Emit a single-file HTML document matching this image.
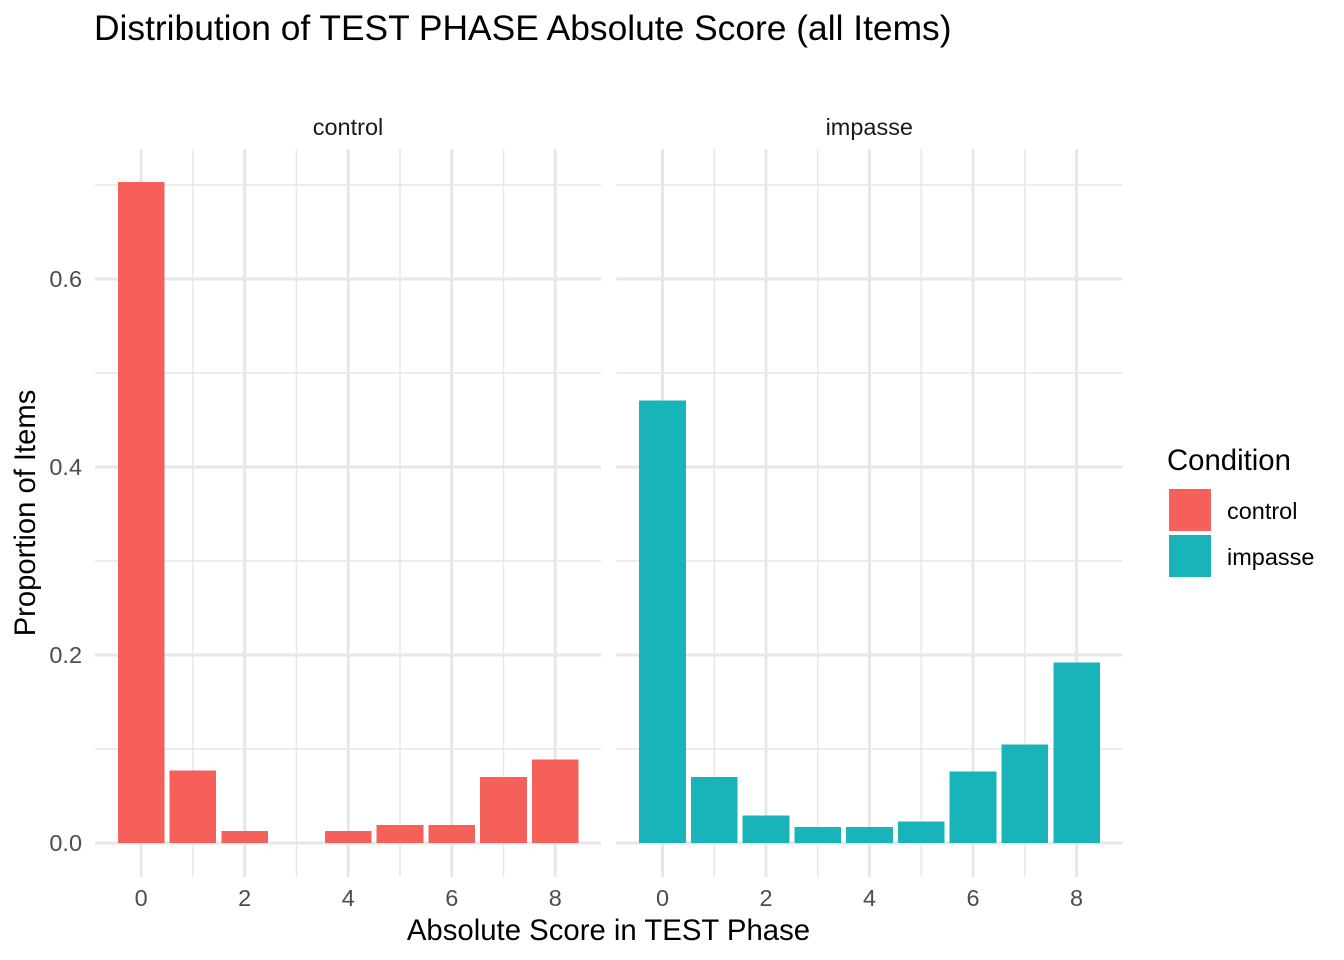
<!DOCTYPE html>
<html lang="en">
<head>
<meta charset="utf-8">
<title>Distribution of TEST PHASE Absolute Score</title>
<style>
html,body{margin:0;padding:0;background:#fff;width:1344px;height:960px;overflow:hidden}
svg{display:block}
text{font-family:"Liberation Sans",Arial,sans-serif}
</style>
</head>
<body>
<svg id="chart" width="1344" height="960" viewBox="0 0 1344 960" xmlns="http://www.w3.org/2000/svg">
  <rect width="1344" height="960" fill="#ffffff"/>
  <text x="94" y="40" font-size="35.36" fill="#000">Distribution of TEST PHASE Absolute Score (all Items)</text>
  <text x="608.5" y="940" font-size="29.33" text-anchor="middle" fill="#000">Absolute Score in TEST Phase</text>
  <text transform="translate(35 513) rotate(-90)" font-size="29.2" text-anchor="middle" fill="#000">Proportion of Items</text>
  <g id="panels"></g>
  <g>
    <text x="1167" y="470" font-size="29.33" fill="#000">Condition</text>
    <rect x="1169" y="489" width="42" height="42" fill="#F5605B"/>
    <text x="1227" y="519" font-size="23.47" fill="#000">control</text>
    <rect x="1169" y="535" width="42" height="42" fill="#18B4B9"/>
    <text x="1227" y="565" font-size="23.47" fill="#000">impasse</text>
  </g>
</svg>
<script>
const facetNames = ['control', 'impasse'];
const scores = [0, 1, 2, 3, 4, 5, 6, 7, 8];
const controlValues = [0.703, 0.077, 0.013, 0, 0.013, 0.019, 0.019, 0.070, 0.089];
const impasseValues = [0.471, 0.070, 0.029, 0.017, 0.017, 0.023, 0.076, 0.105, 0.192];
const xTickLabels = [0, 2, 4, 6, 8];
const yTickLabels = [0, 0.2, 0.4, 0.6];
const yMinorTicks = [0.1, 0.3, 0.5, 0.7];

const NS = 'http://www.w3.org/2000/svg';
const root = document.getElementById('panels');
const panelWidth = 506, panelTop = 149, panelBottom = 877;
const unitX = 51.76, unitY = 940, baseY = 843;
const panelLefts = [95, 616.3];
const colors = ['#F5605B', '#18B4B9'];
const seriesValues = [controlValues, impasseValues];

function make(tag, attrs, parent) {
  const el = document.createElementNS(NS, tag);
  for (const k in attrs) el.setAttribute(k, attrs[k]);
  parent.appendChild(el);
  return el;
}
function xScale(p, v) { return panelLefts[p] + 46.18 + v * unitX; }
function yScale(v) { return baseY - v * unitY; }

function gridLine(parent, x1, y1, x2, y2, major) {
  const line = make('line', { x1: x1, y1: y1, x2: x2, y2: y2, stroke: '#e7e7e7', 'stroke-width': major ? 2.9 : 1.45 }, parent);
  
  
}

facetNames.forEach(function (name, p) {
  const g = make('g', {}, root);
  
  
  const left = panelLefts[p], right = left + panelWidth;

  yMinorTicks.forEach(function (v) { gridLine(g, left, yScale(v), right, yScale(v), false); });
  scores.forEach(function (s) {
    if (s % 2 === 1) gridLine(g, xScale(p, s), panelTop, xScale(p, s), panelBottom, false);
  });
  yTickLabels.forEach(function (v) { gridLine(g, left, yScale(v), right, yScale(v), true); });
  xTickLabels.forEach(function (v) { gridLine(g, xScale(p, v), panelTop, xScale(p, v), panelBottom, true); });

  const strip = make('text', { x: left + panelWidth / 2, y: 135, 'font-size': 23.47, 'text-anchor': 'middle', fill: '#1a1a1a' }, g);
  
  
  strip.textContent = name;

  seriesValues[p].forEach(function (v, i) {
    const bw = unitX * 0.9;
    const bar = make('rect', { x: xScale(p, scores[i]) - bw / 2, y: yScale(v), width: bw, height: baseY - yScale(v), fill: colors[p], 'shape-rendering': 'crispEdges' }, g);
    
    
  });

  xTickLabels.forEach(function (v) {
    const t = make('text', { x: xScale(p, v), y: 906, 'font-size': 23.47, 'text-anchor': 'middle', fill: '#4d4d4d' }, g);
    
    
    t.textContent = v;
  });
});

yTickLabels.forEach(function (v) {
  const t = make('text', { x: 82, y: yScale(v) + 8, 'font-size': 23.47, 'text-anchor': 'end', fill: '#4d4d4d' }, root);
  
  
  t.textContent = v.toFixed(1);
});
</script>
</body>
</html>
